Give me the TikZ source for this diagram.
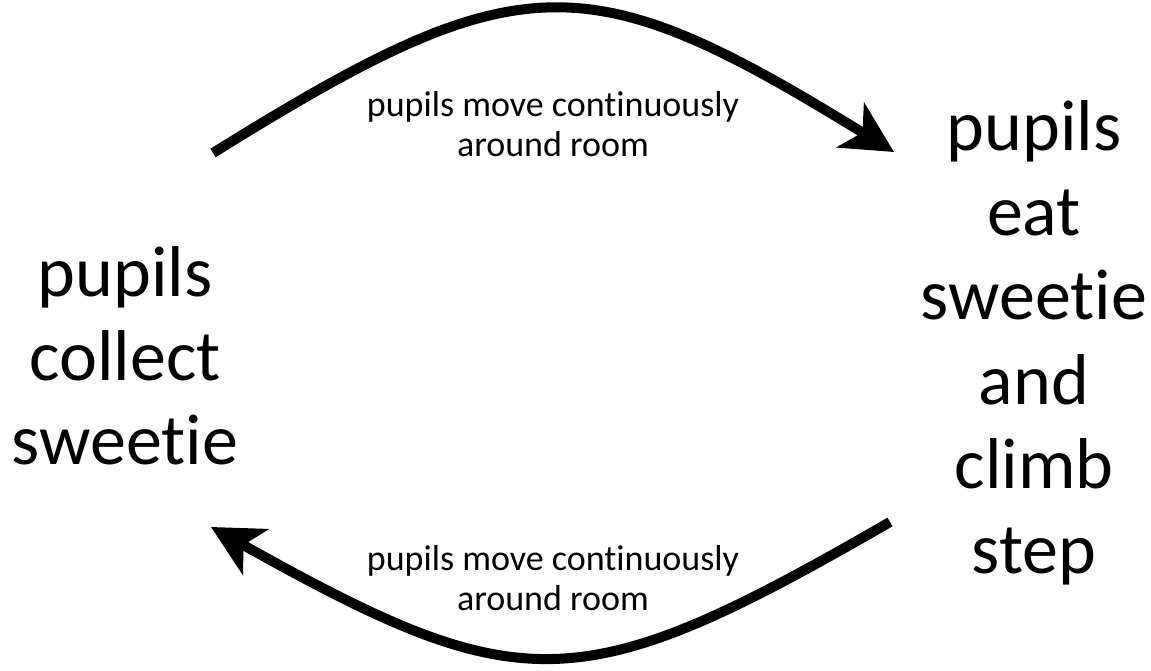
\documentclass[tikz,border=0pt]{standalone}
\usepackage{fontspec}
\setmainfont{Carlito}[RawFeature={-liga;-clig}]
\usetikzlibrary{arrows.meta}
\begin{document}
\begin{tikzpicture}[x=1pt,y=1pt,
  bigleft/.style={align=center,font=\fontsize{72}{84}\selectfont,inner sep=0pt},
  bigright/.style={align=center,font=\fontsize{72}{84.5}\selectfont,inner sep=0pt},
  small/.style={align=center,font=\fontsize{36}{40}\selectfont,inner sep=0pt},
  flow/.style={line width=10pt,-{Stealth[length=51pt,width=52pt,inset=14pt]}}]
\useasboundingbox (0,0) rectangle (1151,670);
\node[bigleft] (collect) at (125,314.5) {pupils\\collect\\sweetie};
\node[bigright] (eat) at (1034,327) {pupils\\eat\\sweetie\\and\\climb\\step};
\node[small] (toplbl) at (553,546) {pupils move continuously\\around room};
\node[small] (botlbl) at (553,92) {pupils move continuously\\around room};
\coordinate (ts) at (213,517);
\coordinate (te) at (894,518);
\coordinate (bs) at (890,148);
\coordinate (be) at (211,143);
\draw[flow] (ts) .. controls (520,708) and (586,708) .. (te);
\draw[flow] (bs) .. controls (580,-31) and (522,-31) .. (be);
\end{tikzpicture}
\end{document}
